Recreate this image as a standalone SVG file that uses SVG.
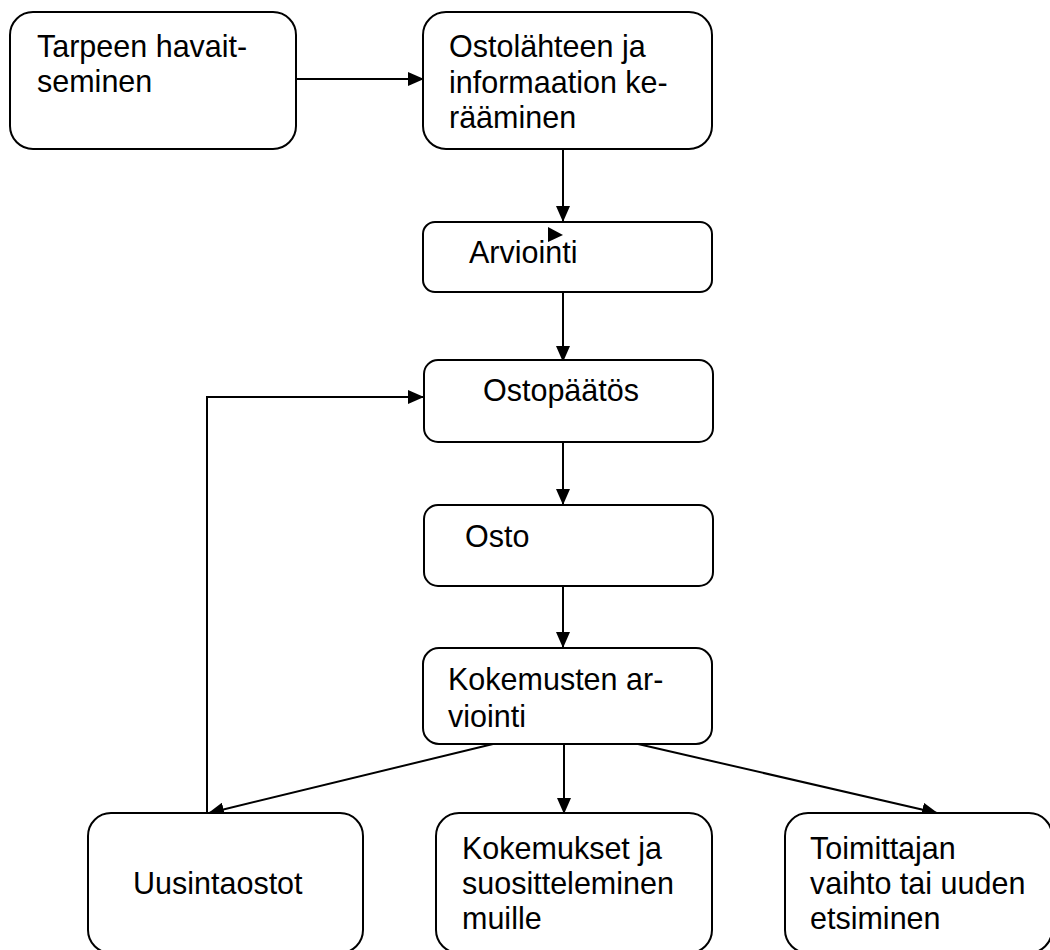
<svg xmlns="http://www.w3.org/2000/svg" width="1050" height="950" viewBox="0 0 1050 950">
<style>
.box{fill:#fff;stroke:#000;stroke-width:2}
.lbl{font-family:"Liberation Sans",Arial,sans-serif;font-size:30.5px;fill:#000}
.con{fill:none;stroke:#000;stroke-width:2}
</style>
<defs>
<marker id="arr" markerWidth="16" markerHeight="14" refX="15" refY="7" orient="auto" markerUnits="userSpaceOnUse">
<path d="M0,0 L16,7 L0,14 Z" fill="#000"/>
</marker>
</defs>
<rect width="1050" height="950" fill="#fff"/>
<g id="connectors">
<line class="con" x1="296" y1="79" x2="423" y2="79" marker-end="url(#arr)"/>
<line class="con" x1="563" y1="149" x2="563" y2="221" marker-end="url(#arr)"/>
<line class="con" x1="563" y1="292" x2="563" y2="361" marker-end="url(#arr)"/>
<line class="con" x1="563" y1="442" x2="563" y2="504" marker-end="url(#arr)"/>
<line class="con" x1="563" y1="586" x2="563" y2="647" marker-end="url(#arr)"/>
<line class="con" x1="493" y1="744" x2="209" y2="813" marker-end="url(#arr)"/>
<line class="con" x1="564" y1="744" x2="564" y2="813" marker-end="url(#arr)"/>
<line class="con" x1="638" y1="744" x2="937" y2="813" marker-end="url(#arr)"/>
<polyline class="con" points="207,813 207,397 423,397" marker-end="url(#arr)"/>
</g>
<g id="n1">
<rect class="box" x="10" y="12" width="286" height="137" rx="23"/>
<text class="lbl" x="37" y="57">Tarpeen havait-</text>
<text class="lbl" x="37" y="92">seminen</text>
</g>
<g id="n2">
<rect class="box" x="423" y="12" width="289" height="137" rx="23"/>
<text class="lbl" x="449" y="57">Ostolähteen ja</text>
<text class="lbl" x="449" y="93">informaation ke-</text>
<text class="lbl" x="449" y="128">rääminen</text>
</g>
<g id="n3">
<rect class="box" x="423" y="222" width="289" height="70" rx="12"/>
<text class="lbl" x="469" y="263">Arviointi</text>
<path d="M548,227 L563,235 L548,242 Z" fill="#000"/>
</g>
<g id="n4">
<rect class="box" x="424" y="360" width="289" height="82" rx="14"/>
<text class="lbl" x="483" y="401">Ostopäätös</text>
</g>
<g id="n5">
<rect class="box" x="424" y="505" width="289" height="81" rx="14"/>
<text class="lbl" x="465" y="547">Osto</text>
</g>
<g id="n6">
<rect class="box" x="423" y="648" width="289" height="96" rx="16"/>
<text class="lbl" x="448" y="690">Kokemusten ar-</text>
<text class="lbl" x="448" y="727">viointi</text>
</g>
<g id="n7">
<rect class="box" x="88" y="813" width="275" height="140" rx="23"/>
<text class="lbl" x="133" y="894">Uusintaostot</text>
</g>
<g id="n8">
<rect class="box" x="436" y="813" width="276" height="140" rx="23"/>
<text class="lbl" x="462" y="859">Kokemukset ja</text>
<text class="lbl" x="462" y="894">suositteleminen</text>
<text class="lbl" x="462" y="929">muille</text>
</g>
<g id="n9">
<rect class="box" x="785" y="813" width="267" height="140" rx="23"/>
<text class="lbl" x="810" y="859">Toimittajan</text>
<text class="lbl" x="810" y="894">vaihto tai uuden</text>
<text class="lbl" x="810" y="929">etsiminen</text>
</g>
</svg>
